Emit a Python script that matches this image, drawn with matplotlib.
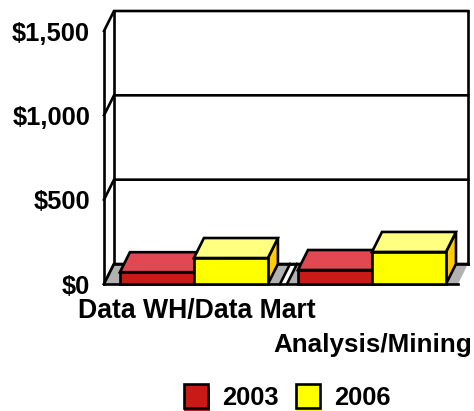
import matplotlib
matplotlib.use("Agg")
import matplotlib.pyplot as plt
from matplotlib.patches import Polygon, Rectangle

categorias = ["Data WH/Data Mart", "Analysis/Mining"]
anios = ["2003", "2006"]
valores_2003 = [70, 83]
valores_2006 = [154, 190]
yticks = [0, 500, 1000, 1500]
ytick_labels = ["$0", "$500", "$1,000", "$1,500"]

W, H = 474, 411
plt.rcParams['font.family'] = ['Liberation Sans', 'DejaVu Sans']
plt.rcParams['font.weight'] = 'bold'

fig = plt.figure(figsize=(W / 100, H / 100), dpi=100)
# ejes = cara frontal del grafico 3D, de x=104 a 458 y de y=284 a 31 px
ax = fig.add_axes([104 / W, 1 - 284 / H, 354 / W, 253 / H])
ax.set_xlim(0, 2)
ax.set_ylim(0, 1500)
ax.patch.set_visible(False)
for s in ax.spines.values():
    s.set_visible(False)

# profundidad en unidades de datos
dx = 10 / 177
dy = 20 * 1500 / 253
lw = 1.9
ancho = 74 / 177
centros = [0.508, 1.514]
# hueco blanco del suelo entre categorias, a partir de x=280 px, 7 px de ancho
hueco = (280 - 104) / 177
hueco_w = 7 / 177


def poly(pts, fc, ec='black', z=2):
    ax.add_patch(Polygon(pts, closed=True, fc=fc, ec=ec, lw=lw, zorder=z,
                         clip_on=False, joinstyle='miter'))


def caja(x0, x1, v, frente, arriba, lado, z):
    poly([(x1, 0), (x1 + dx, dy), (x1 + dx, v + dy), (x1, v)], lado, z=z)
    poly([(x0, v), (x0 + dx, v + dy), (x1 + dx, v + dy), (x1, v)], arriba, z=z)
    poly([(x0, 0), (x1, 0), (x1, v), (x0, v)], frente, z=z)


# pared del fondo y lineas de grid
for t in yticks:
    ax.plot([0, dx, 2 + dx], [t, t + dy, t + dy], color='black', lw=lw, zorder=1,
            clip_on=False, solid_joinstyle='miter')
ax.plot([dx, dx], [dy, 1500 + dy], color='black', lw=lw, zorder=1, clip_on=False)
ax.plot([0, 0], [0, 1500], color='black', lw=lw, zorder=1, clip_on=False)
ax.plot([2 + dx, 2 + dx], [dy, 1500 + dy], color='black', lw=lw, zorder=1, clip_on=False)

# suelo gris, un tramo por categoria
tramos = [(0, hueco), (hueco + hueco_w, 2)]
for a, b in tramos:
    poly([(a, 0), (b, 0), (b + dx, dy), (a + dx, dy)], '#b2b2b2', ec='none', z=1.5)
for x in [0, hueco, hueco + hueco_w]:
    ax.plot([x, x + dx], [0, dy], color='black', lw=lw, zorder=1.6, clip_on=False)
ax.plot([dx, 2 + dx], [dy, dy], color='black', lw=lw, zorder=1.6, clip_on=False)
ax.plot([0, 2], [0, 0], color='black', lw=lw, zorder=3, clip_on=False)

for i, c in enumerate(centros):
    caja(c - ancho, c, valores_2003[i], '#c81a16', '#e24852', '#c81a16', 4 + i)
    caja(c, c + ancho, valores_2006[i], '#ffff00', '#ffff80', '#ffcc00', 4.5 + i)

ax.set_yticks(yticks)
ax.set_yticklabels(ytick_labels, fontsize=18.4, fontweight='bold')
ax.tick_params(axis='y', length=0, pad=10)
ax.set_xticks([])

# etiquetas de categoria escalonadas
fig.text(196.5 / W, 1 - 311 / H, categorias[0], fontsize=19.2, fontweight='bold',
         ha='center', va='center')
fig.text(373 / W, 1 - 345 / H, categorias[1], fontsize=18.7, fontweight='bold',
         ha='center', va='center')

# leyenda a mano
colores = ['#c81a16', '#ffff00']
for x, a, col in zip([184, 296], anios, colores):
    fig.add_artist(Rectangle((x / W, 1 - 411 / H), 26 / W, 24 / H, fc=col, ec='none',
                             transform=fig.transFigure))
    fig.add_artist(Rectangle((x / W, 1 - 408 / H), 24 / W, 24 / H, fc=col, ec='black', lw=lw,
                             transform=fig.transFigure))
    fig.text((x + 38) / W, 1 - 405 / H, a, fontsize=18.4, fontweight='bold',
             ha='left', va='baseline')

fig.savefig("out.png", dpi=100)
